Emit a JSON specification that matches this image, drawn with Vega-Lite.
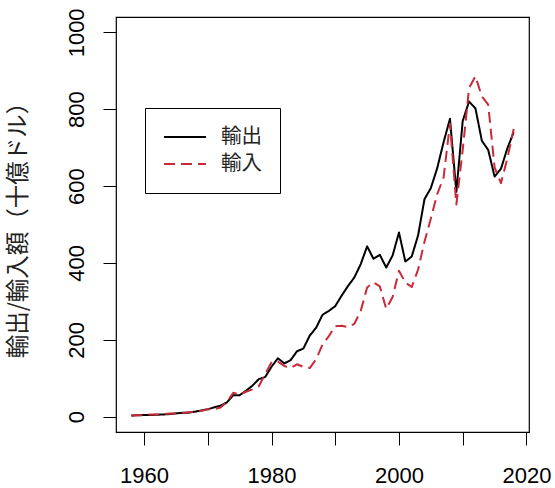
{
  "$schema": "https://vega.github.io/schema/vega-lite/v6.json",
  "width": 413,
  "height": 415,
  "autosize": {"type": "none"},
  "padding": {"left": 116, "top": 17, "right": 26, "bottom": 56},
  "background": "white",
  "config": {
    "view": {"stroke": "black", "strokeWidth": 1.2},
    "axis": {
      "grid": false,
      "domain": false,
      "tickColor": "black",
      "tickSize": 13,
      "tickWidth": 1,
      "labelFont": "Liberation Sans",
      "labelFontSize": 22,
      "labelColor": "black",
      "labelPadding": 20
    }
  },
  "data": {
    "values": [
      {"year": 1958, "type": "輸出", "value": 2.9}, {"year": 1959, "type": "輸出", "value": 3.5},
      {"year": 1960, "type": "輸出", "value": 4.1}, {"year": 1961, "type": "輸出", "value": 4.2},
      {"year": 1962, "type": "輸出", "value": 4.9}, {"year": 1963, "type": "輸出", "value": 5.5},
      {"year": 1964, "type": "輸出", "value": 6.7}, {"year": 1965, "type": "輸出", "value": 8.5},
      {"year": 1966, "type": "輸出", "value": 9.8}, {"year": 1967, "type": "輸出", "value": 10.4},
      {"year": 1968, "type": "輸出", "value": 13.0}, {"year": 1969, "type": "輸出", "value": 16.0},
      {"year": 1970, "type": "輸出", "value": 19.3}, {"year": 1971, "type": "輸出", "value": 24.0},
      {"year": 1972, "type": "輸出", "value": 28.6}, {"year": 1973, "type": "輸出", "value": 36.9},
      {"year": 1974, "type": "輸出", "value": 55.5}, {"year": 1975, "type": "輸出", "value": 55.8},
      {"year": 1976, "type": "輸出", "value": 67.2}, {"year": 1977, "type": "輸出", "value": 80.5},
      {"year": 1978, "type": "輸出", "value": 97.5}, {"year": 1979, "type": "輸出", "value": 103.0},
      {"year": 1980, "type": "輸出", "value": 129.8}, {"year": 1981, "type": "輸出", "value": 152.0},
      {"year": 1982, "type": "輸出", "value": 138.4}, {"year": 1983, "type": "輸出", "value": 147.0},
      {"year": 1984, "type": "輸出", "value": 170.1}, {"year": 1985, "type": "輸出", "value": 177.2},
      {"year": 1986, "type": "輸出", "value": 210.8}, {"year": 1987, "type": "輸出", "value": 231.3},
      {"year": 1988, "type": "輸出", "value": 264.9}, {"year": 1989, "type": "輸出", "value": 275.2},
      {"year": 1990, "type": "輸出", "value": 287.6}, {"year": 1991, "type": "輸出", "value": 314.8},
      {"year": 1992, "type": "輸出", "value": 339.9}, {"year": 1993, "type": "輸出", "value": 362.2},
      {"year": 1994, "type": "輸出", "value": 397.0}, {"year": 1995, "type": "輸出", "value": 443.1},
      {"year": 1996, "type": "輸出", "value": 410.9}, {"year": 1997, "type": "輸出", "value": 421.0},
      {"year": 1998, "type": "輸出", "value": 388.0}, {"year": 1999, "type": "輸出", "value": 419.4},
      {"year": 2000, "type": "輸出", "value": 479.2}, {"year": 2001, "type": "輸出", "value": 403.5},
      {"year": 2002, "type": "輸出", "value": 416.7}, {"year": 2003, "type": "輸出", "value": 471.8},
      {"year": 2004, "type": "輸出", "value": 565.7}, {"year": 2005, "type": "輸出", "value": 594.9},
      {"year": 2006, "type": "輸出", "value": 646.7}, {"year": 2007, "type": "輸出", "value": 714.3},
      {"year": 2008, "type": "輸出", "value": 775.0}, {"year": 2009, "type": "輸出", "value": 585.0},
      {"year": 2010, "type": "輸出", "value": 769.8}, {"year": 2011, "type": "輸出", "value": 820.0},
      {"year": 2012, "type": "輸出", "value": 802.0}, {"year": 2013, "type": "輸出", "value": 718.0},
      {"year": 2014, "type": "輸出", "value": 694.0}, {"year": 2015, "type": "輸出", "value": 624.8},
      {"year": 2016, "type": "輸出", "value": 644.9}, {"year": 2017, "type": "輸出", "value": 698.1},
      {"year": 2018, "type": "輸出", "value": 740.0},
      {"year": 1958, "type": "輸入", "value": 3.0}, {"year": 1959, "type": "輸入", "value": 3.6},
      {"year": 1960, "type": "輸入", "value": 4.5}, {"year": 1961, "type": "輸入", "value": 5.8},
      {"year": 1962, "type": "輸入", "value": 5.6}, {"year": 1963, "type": "輸入", "value": 6.7},
      {"year": 1964, "type": "輸入", "value": 7.9}, {"year": 1965, "type": "輸入", "value": 8.2},
      {"year": 1966, "type": "輸入", "value": 9.5}, {"year": 1967, "type": "輸入", "value": 11.7},
      {"year": 1968, "type": "輸入", "value": 13.0}, {"year": 1969, "type": "輸入", "value": 15.0},
      {"year": 1970, "type": "輸入", "value": 18.9}, {"year": 1971, "type": "輸入", "value": 19.7},
      {"year": 1972, "type": "輸入", "value": 23.5}, {"year": 1973, "type": "輸入", "value": 38.3},
      {"year": 1974, "type": "輸入", "value": 62.1}, {"year": 1975, "type": "輸入", "value": 57.9},
      {"year": 1976, "type": "輸入", "value": 64.8}, {"year": 1977, "type": "輸入", "value": 70.8},
      {"year": 1978, "type": "輸入", "value": 79.3}, {"year": 1979, "type": "輸入", "value": 110.7},
      {"year": 1980, "type": "輸入", "value": 141.3}, {"year": 1981, "type": "輸入", "value": 143.3},
      {"year": 1982, "type": "輸入", "value": 131.9}, {"year": 1983, "type": "輸入", "value": 126.4},
      {"year": 1984, "type": "輸入", "value": 136.2}, {"year": 1985, "type": "輸入", "value": 129.5},
      {"year": 1986, "type": "輸入", "value": 126.4}, {"year": 1987, "type": "輸入", "value": 149.5},
      {"year": 1988, "type": "輸入", "value": 187.4}, {"year": 1989, "type": "輸入", "value": 209.7},
      {"year": 1990, "type": "輸入", "value": 235.4}, {"year": 1991, "type": "輸入", "value": 236.7},
      {"year": 1992, "type": "輸入", "value": 233.2}, {"year": 1993, "type": "輸入", "value": 241.6},
      {"year": 1994, "type": "輸入", "value": 275.2}, {"year": 1995, "type": "輸入", "value": 335.9},
      {"year": 1996, "type": "輸入", "value": 349.2}, {"year": 1997, "type": "輸入", "value": 338.8},
      {"year": 1998, "type": "輸入", "value": 280.5}, {"year": 1999, "type": "輸入", "value": 311.3},
      {"year": 2000, "type": "輸入", "value": 379.5}, {"year": 2001, "type": "輸入", "value": 349.1},
      {"year": 2002, "type": "輸入", "value": 337.2}, {"year": 2003, "type": "輸入", "value": 382.9},
      {"year": 2004, "type": "輸入", "value": 455.3}, {"year": 2005, "type": "輸入", "value": 515.9},
      {"year": 2006, "type": "輸入", "value": 579.1}, {"year": 2007, "type": "輸入", "value": 622.2},
      {"year": 2008, "type": "輸入", "value": 762.5}, {"year": 2009, "type": "輸入", "value": 552.0},
      {"year": 2010, "type": "輸入", "value": 694.1}, {"year": 2011, "type": "輸入", "value": 855.4},
      {"year": 2012, "type": "輸入", "value": 885.8}, {"year": 2013, "type": "輸入", "value": 833.2},
      {"year": 2014, "type": "輸入", "value": 812.2}, {"year": 2015, "type": "輸入", "value": 648.5},
      {"year": 2016, "type": "輸入", "value": 607.6}, {"year": 2017, "type": "輸入", "value": 671.9},
      {"year": 2018, "type": "輸入", "value": 748.5}
    ]
  },
  "mark": {"type": "line", "strokeWidth": 2, "strokeJoin": "round"},
  "encoding": {
    "x": {
      "field": "year",
      "type": "quantitative",
      "scale": {"domain": [1955.6, 2020.4], "nice": false, "zero": false},
      "axis": {
        "title": null,
        "values": [1960, 1970, 1980, 1990, 2000, 2010, 2020],
        "format": "d",
        "labelExpr": "datum.value % 20 == 0 ? datum.label : ''",
        "labelFlush": false,
        "labelOverlap": false
      }
    },
    "y": {
      "field": "value",
      "type": "quantitative",
      "scale": {"domain": [-40, 1040], "nice": false, "zero": false},
      "axis": {
        "title": "輸出/輸入額（十億ドル）",
        "titleFont": "Noto Sans CJK JP",
        "titleFontSize": 23.5,
        "titleFontWeight": "normal",
        "titleColor": "#222",
        "titleAngle": 270,
        "titleAlign": "center",
        "titleBaseline": "middle",
        "titleX": -98,
        "titleY": 207,
        "values": [0, 200, 400, 600, 800, 1000],
        "format": "d",
        "labelAngle": 270,
        "labelAlign": "center",
        "labelBaseline": "alphabetic",
        "labelPadding": 20,
        "labelFlush": false,
        "labelOverlap": false
      }
    },
    "color": {
      "field": "type",
      "type": "nominal",
      "sort": ["輸出", "輸入"],
      "scale": {"domain": ["輸出", "輸入"], "range": ["black", "#C92A3A"]},
      "legend": {
        "title": null,
        "orient": "none",
        "legendX": 29,
        "legendY": 91,
        "strokeColor": "black",
        "fillColor": "white",
        "cornerRadius": 0,
        "padding": 18,
        "symbolType": "stroke",
        "symbolSize": 1764,
        "symbolStrokeWidth": 2,
        "clipHeight": 22,
        "labelFont": "Noto Sans CJK JP",
        "labelFontSize": 20.5,
        "labelColor": "#222",
        "labelOffset": 14,
        "rowPadding": 5,
        "encode": {
          "symbols": {
            "update": {
              "strokeDash": {"signal": "datum.value === '輸入' ? [11, 6] : [1, 0]"}
            }
          }
        }
      }
    },
    "strokeDash": {
      "field": "type",
      "type": "nominal",
      "sort": ["輸出", "輸入"],
      "scale": {"domain": ["輸出", "輸入"], "range": [[1, 0], [11, 6]]},
      "legend": null
    }
  }
}
